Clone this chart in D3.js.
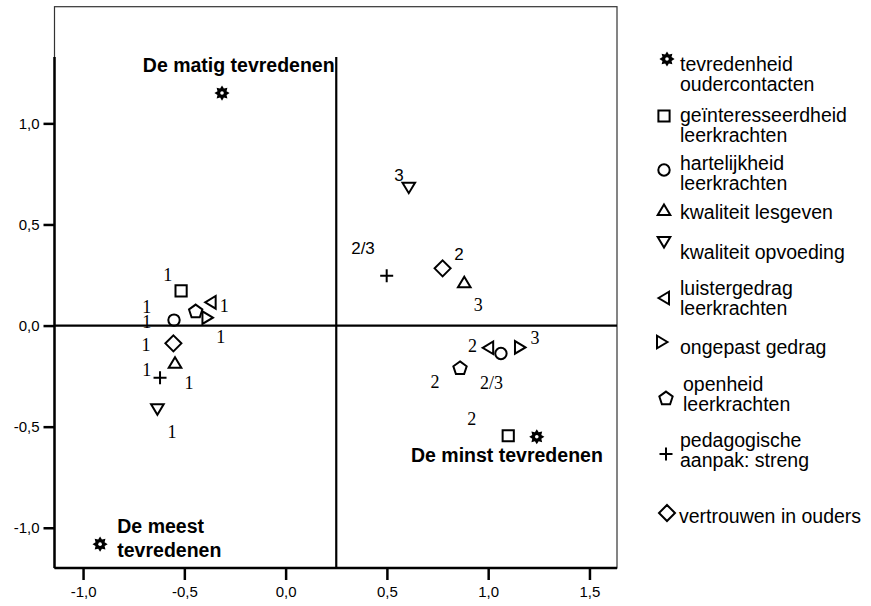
<!DOCTYPE html>
<html><head><meta charset="utf-8">
<script src="https://cdn.jsdelivr.net/npm/d3@7"></script>
<style>body{margin:0;background:#fff} svg{display:block}</style>
</head><body><svg id="c" width="871" height="606"></svg>
<script>
// ---------- DATA ----------
const seriesNames = ["tevredenheid oudercontacten","geïnteresseerdheid leerkrachten","hartelijkheid leerkrachten","kwaliteit lesgeven","kwaliteit opvoeding","luistergedrag leerkrachten","ongepast gedrag","openheid leerkrachten","pedagogische aanpak: streng","vertrouwen in ouders"];
const seriesSymbols = ["star","square","circle","triangleUp","triangleDown","triangleLeft","triangleRight","pentagon","plus","diamond"];
const legendLines = [["tevredenheid","oudercontacten"],["geïnteresseerdheid","leerkrachten"],["hartelijkheid","leerkrachten"],["kwaliteit lesgeven"],["kwaliteit opvoeding"],["luistergedrag","leerkrachten"],["ongepast gedrag"],["openheid","leerkrachten"],["pedagogische","aanpak: streng"],["vertrouwen in ouders"]];
// dimension 1 (x) and dimension 2 (y) per series, one value per category point
const dim1 = [
  [-0.314, -0.916, 1.240],
  [-0.516, 1.099],
  [-0.551, 1.063],
  [-0.546, 0.882],
  [-0.633, 0.608],
  [-0.370, 1.000],
  [-0.386, 1.157],
  [-0.444, 0.861],
  [-0.620, 0.499],
  [-0.554, 0.775]
];
const dim2 = [
  [1.150, -1.081, -0.550],
  [0.172, -0.545],
  [0.027, -0.138],
  [-0.184, 0.214],
  [-0.414, 0.682],
  [0.115, -0.110],
  [0.039, -0.108],
  [0.072, -0.209],
  [-0.258, 0.246],
  [-0.088, 0.283]
];
// category number annotations
const serifLabelText = ["1","1","1","1","1","1","1","1","1","3","2","3","2","2/3","2"];
const serifLabelX = [-0.582,-0.686,-0.686,-0.303,-0.320,-0.689,-0.686,-0.477,-0.561, 0.951,0.923,1.231,0.737,1.017,0.919];
const serifLabelY = [0.250,0.091,0.019,0.096,-0.057,-0.096,-0.220,-0.283,-0.528, 0.101,-0.100,-0.063,-0.278,-0.286,-0.462];
const sansLabelText = ["3","2/3","2"];
const sansLabelX = [0.560,0.382,0.856];
const sansLabelY = [0.744,0.383,0.349];
// group (quadrant) annotations
const groupText = ["De matig tevredenen","De minst tevredenen","De meest","tevredenen"];
const groupX = [-0.705, 0.619, -0.831, -0.831];
const groupY = [1.255, -0.674, -1.028, -1.143];
// axes
const xTicks = [-1.0,-0.5,0.0,0.5,1.0,1.5];
const yTicks = [-1.0,-0.5,0.0,0.5,1.0];
const xDomain = [-1.141, 1.636];
const yDomain = [-1.199, 1.577];
const refX = 0.25, refY = 0, axisTop = 1.328;

// ---------- LAYOUT ----------
const svg = d3.select("#c");
const L = 54.5, R = 617, T = 6.7, B = 568;
const x = d3.scaleLinear().domain(xDomain).range([L, R]);
const y = d3.scaleLinear().domain(yDomain).range([B, T]);
const fmt = v => d3.format(".1f")(v).replace(".", ",").replace("\u2212", "-");
const SANS = "'Liberation Sans', Arial, sans-serif";
const SERIF = "'Liberation Serif', 'Times New Roman', serif";

// frame
svg.append("rect").attr("x", L).attr("y", T).attr("width", R - L).attr("height", B - T)
  .attr("fill", "none").attr("stroke", "#333").attr("stroke-width", 1.2);

// reference lines
svg.append("line").attr("x1", L).attr("x2", R).attr("y1", y(refY)).attr("y2", y(refY))
  .attr("stroke", "#000").attr("stroke-width", 2.2);
svg.append("line").attr("x1", x(refX)).attr("x2", x(refX)).attr("y1", y(axisTop)).attr("y2", B)
  .attr("stroke", "#000").attr("stroke-width", 2.2);

// axes
const xAxis = d3.axisBottom(x).tickValues(xTicks).tickFormat(fmt).tickSize(12).tickPadding(6);
const gx = svg.append("g").attr("transform", `translate(0,${B})`).call(xAxis);
gx.select(".domain").attr("d", `M${L},0H${R}`).attr("stroke-width", 2.5);
gx.selectAll(".tick line").attr("stroke-width", 2.5);
gx.selectAll("text").attr("font-family", SANS).attr("font-size", 15).attr("fill", "#000");

const yAxis = d3.axisLeft(y).tickValues(yTicks).tickFormat(fmt).tickSize(11).tickPadding(4);
const gy = svg.append("g").attr("transform", `translate(${L},0)`).call(yAxis);
gy.select(".domain").attr("d", `M0,${y(axisTop)}V${B}`).attr("stroke-width", 2.5);
gy.selectAll(".tick line").attr("stroke-width", 2.5);
gy.selectAll("text").attr("font-family", SANS).attr("font-size", 15).attr("fill", "#000");

// ---------- SYMBOLS ----------
function starPath() {
  const pts = [];
  for (let i = 0; i < 16; i++) {
    const a = i * Math.PI / 8 - Math.PI / 2;
    const r = i % 2 === 0 ? 7.6 : 4.9;
    pts.push([r * Math.cos(a), r * Math.sin(a)]);
  }
  return "M" + pts.map(p => p[0].toFixed(2) + "," + p[1].toFixed(2)).join("L") + "Z";
}
function pentPath(r) {
  const pts = [];
  for (let i = 0; i < 5; i++) {
    const a = i * 2 * Math.PI / 5 - Math.PI / 2;
    pts.push([r * Math.cos(a), r * Math.sin(a) + 0.6]);
  }
  return "M" + pts.map(p => p[0].toFixed(2) + "," + p[1].toFixed(2)).join("L") + "Z";
}
const shapes = {
  square: "M-5.6,-5.6H5.6V5.6H-5.6Z",
  circle: "M-5.7,0A5.7,5.7 0 1,0 5.7,0A5.7,5.7 0 1,0 -5.7,0Z",
  triangleUp: "M0,-5.5L6.3,5L-6.3,5Z",
  triangleDown: "M-6.3,-5L6.3,-5L0,5.5Z",
  triangleLeft: "M-5.5,0L5,-6.3L5,6.3Z",
  triangleRight: "M5.5,0L-5,-6.3L-5,6.3Z",
  pentagon: pentPath(7),
  plus: "M-6.5,0H6.5M0,-6.5V6.5",
  diamond: "M0,-8L8,0L0,8L-8,0Z"
};
function drawSymbol(g, sym, cx, cy) {
  const t = `translate(${cx},${cy})`;
  if (sym === "star") {
    g.append("path").attr("transform", t).attr("d", starPath()).attr("fill", "#000");
    g.append("circle").attr("cx", cx).attr("cy", cy).attr("r", 1.8).attr("fill", "#fff");
  } else {
    g.append("path").attr("transform", t).attr("d", shapes[sym])
      .attr("fill", "none").attr("stroke", "#000").attr("stroke-width", 2);
  }
}

// markers
const gm = svg.append("g");
seriesNames.forEach((name, s) => {
  dim1[s].forEach((v, i) => drawSymbol(gm, seriesSymbols[s], x(v), y(dim2[s][i])));
});

// category labels
const gl = svg.append("g");
serifLabelText.forEach((t, i) => {
  gl.append("text").attr("x", x(serifLabelX[i])).attr("y", y(serifLabelY[i]))
    .attr("text-anchor", "middle").attr("dominant-baseline", "central")
    .attr("font-family", SERIF).attr("font-size", 18).text(t);
});
sansLabelText.forEach((t, i) => {
  gl.append("text").attr("x", x(sansLabelX[i])).attr("y", y(sansLabelY[i]))
    .attr("text-anchor", "middle").attr("dominant-baseline", "central")
    .attr("font-family", SANS).attr("font-size", 17).text(t);
});

// group labels
groupText.forEach((t, i) => {
  svg.append("text").attr("x", x(groupX[i])).attr("y", y(groupY[i]))
    .attr("font-family", SANS).attr("font-weight", "bold").attr("font-size", 19.5).text(t);
});

// ---------- LEGEND ----------
const legSymX = [667, 664, 664, 664, 664, 664, 662, 666, 666, 667];
const legSymY = [59, 116, 170, 210, 242, 298, 342, 398, 454, 513];
const legTextY = [64, 115, 163, 212, 252, 288, 347, 384, 440, 516];
const legTextX = [680, 680, 680, 680, 680, 680, 680, 683, 680, 679];
const lg = svg.append("g");
seriesNames.forEach((name, s) => {
  drawSymbol(lg, seriesSymbols[s], legSymX[s], legSymY[s]);
  legendLines[s].forEach((ln, j) => {
    lg.append("text").attr("x", legTextX[s]).attr("y", legTextY[s] + j * 19.5)
      .attr("dominant-baseline", "central")
      .attr("font-family", SANS).attr("font-size", 19.5).text(ln);
  });
});
</script></body></html>
